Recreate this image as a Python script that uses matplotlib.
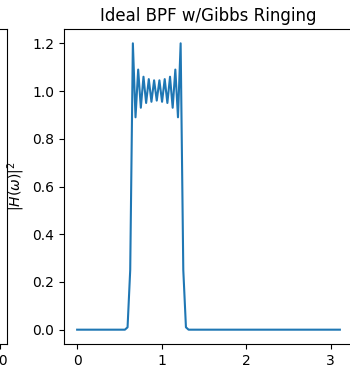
import numpy as np
import matplotlib
matplotlib.use('Agg')
import matplotlib.pyplot as plt

# |H(w)|^2 sampled on 100 points over [0, pi)
n_points = 100
w = np.pi * np.arange(n_points) / n_points

passband = [0.01, 0.25,
            1.20, 0.89, 1.09, 0.93, 1.06, 0.95, 1.05, 0.955, 1.045, 0.96,
            1.045, 0.955, 1.05, 0.95, 1.06, 0.93, 1.09, 0.89, 1.20,
            0.25, 0.01]
H2 = [0.0] * 19 + passband + [0.0] * (n_points - 19 - len(passband))

title = 'Ideal BPF w/Gibbs Ringing'
ylabel = r'$|H(\omega)|^2$'

fig = plt.figure(figsize=(3.5, 3.67), dpi=100)

# neighbouring subplot, mostly outside the crop
ax0 = fig.add_axes([-0.8, 23 / 367, 0.8 + 7 / 350, 315 / 367])
ax0.set_xlim(0, 1)
ax0.set_xticks([0.974], ['10'])
ax0.set_yticks([])

ax = fig.add_axes([64 / 350, 23 / 367, 289 / 350, 315 / 367])
ax.plot(w, H2)
ax.set_title(title)
ax.set_ylabel(ylabel)
ax.set_xticks([0, 1, 2, 3])
ax.set_yticks([0.0, 0.2, 0.4, 0.6, 0.8, 1.0, 1.2])

fig.savefig('out.png', dpi=100)
